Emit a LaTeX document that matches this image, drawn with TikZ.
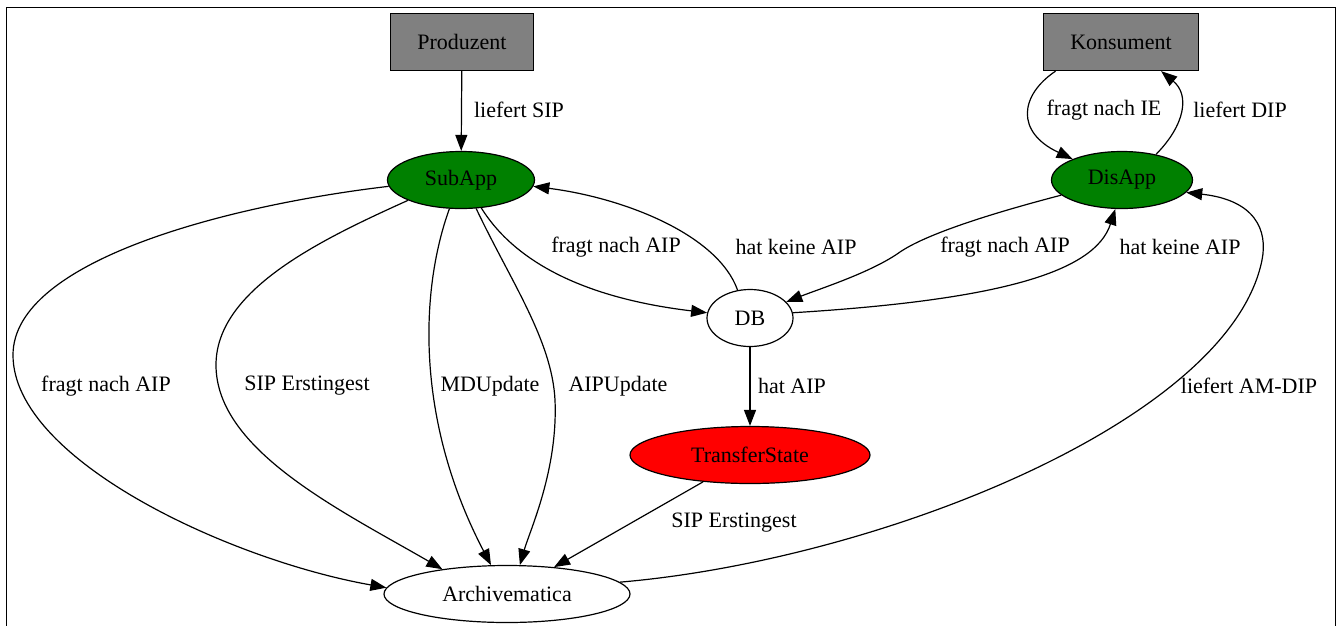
\documentclass[tikz,border=0pt]{standalone}
\usepackage{fontspec}
\setmainfont{Liberation Serif}
\usetikzlibrary{shapes.geometric,arrows.meta}
\definecolor{gvgray}{HTML}{808080}
\definecolor{gvgreen}{HTML}{008000}
\definecolor{gvred}{HTML}{FF0000}
\begin{document}
\begin{tikzpicture}[x=1pt,y=-1pt,
  font=\fontsize{22}{26}\selectfont,
  box/.style={draw, line width=1.3pt, fill=gvgray, minimum height=57pt, inner sep=0pt},
  ell/.style={draw, ellipse, line width=1.2pt, minimum height=57pt, inner sep=0pt},
  conn/.style={line width=1.2pt, -{Triangle[length=16pt,width=12pt]}},
  lbl/.style={inner sep=0pt}]
\useasboundingbox (0,0) rectangle (1339,625);
\draw[line width=1pt] (6.3,7) rectangle (1335.7,640);

% nodes
\node[box, minimum width=143pt] (prod) at (462,42) {Produzent};
\node[box, minimum width=155pt] (kons) at (1121,42) {Konsument};
\node[ell, fill=gvgreen, minimum width=147pt] (sub) at (461,180) {SubApp};
\node[ell, fill=gvgreen, minimum width=141pt] (dis) at (1122,180) {DisApp};
\node[ell, minimum width=86pt] (db) at (750,318) {DB};
\node[ell, fill=gvred, minimum width=240pt] (ts) at (750,455) {TransferState};
\node[ell, minimum width=246pt] (arch) at (507,594) {Archivematica};

% connectors
\draw[conn] (prod) -- (sub);
\draw[conn] (kons.204) .. controls (1020,95) and (1015,132) .. (dis.157);
\draw[conn] (dis.37) .. controls (1185,125) and (1190,95) .. (kons.324);
\draw[conn] (sub.306) .. controls (520,270) and (600,300) .. (db.173);
\draw[conn] (db.114) .. controls (718,235) and (625,198) .. (sub.355);
\draw[conn] (dis.194) .. controls (985,215) and (925,235) .. (900,252) .. controls (872,272) and (822,288) .. (db.24);
\draw[conn] (db.7) .. controls (1000,300) and (1095,272) .. (dis.257);
\draw[conn] (db) -- (ts);
\draw[conn] (sub.185) .. controls (230,205) and (13,260) .. (13,355) .. controls (13,460) and (230,560) .. (arch.177);
\draw[conn] (sub.201) .. controls (320,240) and (216,290) .. (216,365) .. controls (216,450) and (340,510) .. (arch.159);
\draw[conn] (sub.248) .. controls (420,290) and (415,420) .. (arch.119);
\draw[conn] (sub.298) .. controls (510,280) and (552,340) .. (555,400) .. controls (558,470) and (530,530) .. (arch.66);
\draw[conn] (ts) -- (arch);
\draw[conn] (arch.6) .. controls (880,560) and (1230,420) .. (1262,260) .. controls (1268,230) and (1255,200) .. (dis.349);

% labels
\node[lbl] (l1) at (519,110) {liefert SIP};
\node[lbl] (l2) at (1104,110) {fragt nach IE};
\node[lbl] (l3) at (1240,110) {liefert DIP};
\node[lbl] (l4) at (616,247) {fragt nach AIP};
\node[lbl] (l5) at (796,247) {hat keine AIP};
\node[lbl] (l6) at (1005,247) {fragt nach AIP};
\node[lbl] (l7) at (1180,247) {hat keine AIP};
\node[lbl] (l8) at (106,386) {fragt nach AIP};
\node[lbl] (l9) at (307,386) {SIP Erstingest};
\node[lbl] (l10) at (490,386) {MDUpdate};
\node[lbl] (l11) at (618,386) {AIPUpdate};
\node[lbl] (l12) at (792,386) {hat AIP};
\node[lbl] (l13) at (1249,386) {liefert AM-DIP};
\node[lbl] (l14) at (734,523) {SIP Erstingest};
\end{tikzpicture}
\end{document}
